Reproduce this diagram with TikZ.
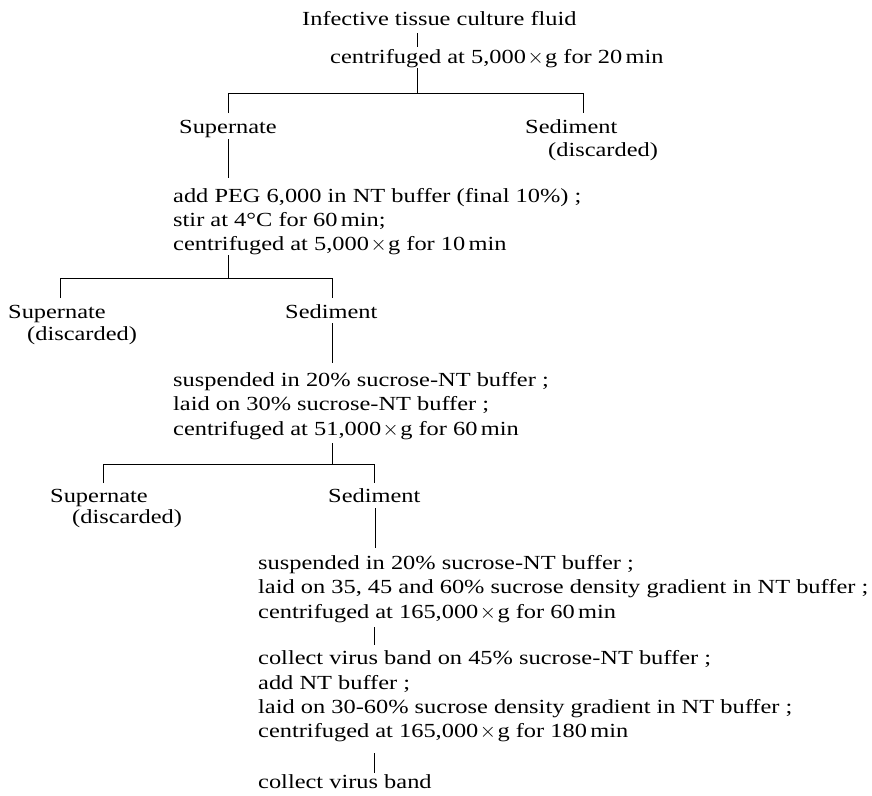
\documentclass[tikz,border=0pt]{standalone}
\usepackage{fontspec}
\setmainfont{Liberation Serif}[FakeStretch=1.22]
\begin{document}
\begin{tikzpicture}[x=1pt,y=-1pt,
  txt/.style={anchor=base west,inner sep=0pt,font=\fontsize{20}{24}\selectfont},
  conn/.style={line width=0.7pt}]
\useasboundingbox (0,0) rectangle (872,795);
\newcommand{\xg}{\kern1.5pt$\times$\kern1.5pt g}
% texts
\node[txt] (inf) at (302,25) {Infective tissue culture fluid};
\node[txt] (c1) at (330,63) {centrifuged at 5,000\xg{} for 20\,min};
\node[txt] (sup1) at (179,133) {Supernate};
\node[txt] (sed1) at (525,133) {Sediment};
\node[txt] (dis1) at (548,156) {(discarded)};
\node[txt] (p1) at (173,202) {add PEG 6,000 in NT buffer (final 10\%) ;};
\node[txt] (p2) at (173,226) {stir at 4°C for 60\,min;};
\node[txt] (p3) at (173,250) {centrifuged at 5,000\xg{} for 10\,min};
\node[txt] (sup2) at (8,318) {Supernate};
\node[txt] (dis2) at (27,340) {(discarded)};
\node[txt] (sed2) at (285,318) {Sediment};
\node[txt] (s1) at (173,386) {suspended in 20\% sucrose-NT buffer ;};
\node[txt] (s2) at (173,410) {laid on 30\% sucrose-NT buffer ;};
\node[txt] (s3) at (173,435) {centrifuged at 51,000\xg{} for 60\,min};
\node[txt] (sup3) at (50,502) {Supernate};
\node[txt] (dis3) at (72,523) {(discarded)};
\node[txt] (sed3) at (328,502) {Sediment};
\node[txt] (g1) at (258,569) {suspended in 20\% sucrose-NT buffer ;};
\node[txt] (g2) at (258,593) {laid on 35, 45 and 60\% sucrose density gradient in NT buffer ;};
\node[txt] (g3) at (258,618) {centrifuged at 165,000\xg{} for 60\,min};
\node[txt] (h1) at (258,664) {collect virus band on 45\% sucrose-NT buffer ;};
\node[txt] (h2) at (258,689) {add NT buffer ;};
\node[txt] (h3) at (258,713) {laid on 30-60\% sucrose density gradient in NT buffer ;};
\node[txt] (h4) at (258,737) {centrifuged at 165,000\xg{} for 180\,min};
\node[txt] (fin) at (258,788) {collect virus band};
% connector coordinates
\coordinate (a1) at (417,33); \coordinate (a2) at (417,47);
\coordinate (b1) at (417,68); \coordinate (b2) at (417,93);
\coordinate (bl) at (228,93); \coordinate (br) at (583,93);
\coordinate (bl2) at (228,113); \coordinate (br2) at (583,113);
\coordinate (d1) at (228,139); \coordinate (d2) at (228,178);
\coordinate (e1) at (228,255); \coordinate (e2) at (228,278);
\coordinate (el) at (60,278); \coordinate (er) at (332,278);
\coordinate (el2) at (60,298); \coordinate (er2) at (332,298);
\coordinate (f1) at (332,323); \coordinate (f2) at (332,363);
\coordinate (k1) at (332,443); \coordinate (k2) at (332,464);
\coordinate (kl) at (103,464); \coordinate (kr) at (374,464);
\coordinate (kl2) at (103,483); \coordinate (kr2) at (374,483);
\coordinate (m1) at (375,508); \coordinate (m2) at (375,548);
\coordinate (n1) at (374,627); \coordinate (n2) at (374,645);
\coordinate (q1) at (374,753); \coordinate (q2) at (374,773);
% connectors
\draw[conn] (a1) -- (a2);
\draw[conn] (b1) -- (b2);
\draw[conn] (bl2) -- (bl) -- (br) -- (br2);
\draw[conn] (d1) -- (d2);
\draw[conn] (e1) -- (e2);
\draw[conn] (el2) -- (el) -- (er) -- (er2);
\draw[conn] (f1) -- (f2);
\draw[conn] (k1) -- (k2);
\draw[conn] (kl2) -- (kl) -- (kr) -- (kr2);
\draw[conn] (m1) -- (m2);
\draw[conn] (n1) -- (n2);
\draw[conn] (q1) -- (q2);
\end{tikzpicture}
\end{document}
